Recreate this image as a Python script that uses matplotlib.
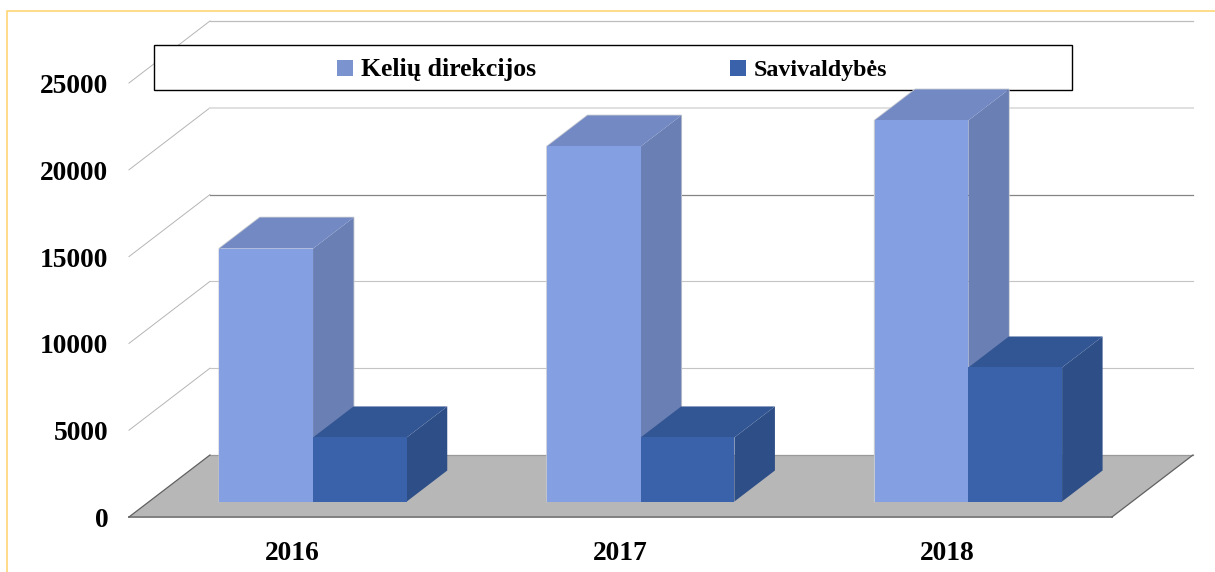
import matplotlib
matplotlib.use('Agg')
import matplotlib.pyplot as plt
from matplotlib.lines import Line2D
from matplotlib.patches import Rectangle

# Data
years = ['2016', '2017', '2018']
keliu = [14570, 20450, 21950]
savivaldybes = [3690, 3690, 7720]
ticks = [0, 5000, 10000, 15000, 20000, 25000]
grid_colors = ['#9A9A9A', '#C4C4C4', '#C4C4C4', '#858585', '#E0E0E0', '#BEBEBE']
grid_widths = [0.9, 0.8, 0.8, 0.9, 1.4, 0.9]

W, H = 1215, 572
PX_X = 327.67       # pixels for one category
PX_Y = 86.8 / 5000  # pixels for one value unit
X0 = 292.8          # pixel of the first category on the front edge
Y0 = 517            # pixel of value 0 on the front edge

# oblique offset of the whole depth of the floor
DX = 81 / PX_X
DY = 62 / PX_Y
BAR_W = 93.7 / PX_X
BAR_FRONT = 0.25
BAR_BACK = 0.75


def proj(x, v, d):
    return x + d * DX, v + d * DY


def px_x(p):
    return (p - X0) / PX_X


def px_y(p):
    return (Y0 - p) / PX_Y


def draw_bar(ax, left, value, front, top, side, z, halo=None):
    x0, v0 = proj(left, 0, BAR_FRONT)
    ax.bar(x0, value, BAR_W, bottom=v0, align='edge', color=front, zorder=z + 0.2)
    x1 = x0 + BAR_W
    x2, v2 = proj(left + BAR_W, value, BAR_BACK)
    x3 = x2 - BAR_W
    if halo:
        ax.plot([x0, x0, x3, x2, x2], [v0, v0 + value, v2, v2, v2 - value], color=halo, lw=1.2, zorder=z - 0.1)
    ax.fill([x0, x1, x2, x3], [v0 + value, v0 + value, v2, v2], color=top, lw=0, zorder=z + 0.1)
    ax.fill([x1, x2, x2, x1], [v0 + value, v2, v2 - value, v0], color=side, lw=0, zorder=z)


fig = plt.figure(figsize=(W / 100, H / 100), dpi=100)
ax = fig.add_axes([0, 0, 1, 1])
ax.set_xlim(px_x(0), px_x(W))
ax.set_ylim(px_y(H), px_y(0))
ax.axis('off')

plt.rcParams['font.family'] = ['Liberation Serif', 'DejaVu Serif']

# page border
ax.add_line(Line2D([7 / W, 7 / W, 1], [0, 1 - 11 / H, 1 - 11 / H], transform=ax.transAxes,
                   color='#FFD97F', lw=1.3, zorder=1))

xl, xr = -0.5, len(years) - 0.5

# floor
fx = [xl, xr, xr + DX, xl + DX]
fy = [0, 0, DY, DY]
ax.fill(fx, fy, color='#B7B7B7', lw=0, zorder=2)

# grid on the back wall and the left wall
for t, c, lw in zip(ticks, grid_colors, grid_widths):
    if t > 0:
        ax.plot([xl, xl + DX], [t, t + DY], color='#B5B5B5', lw=0.7, zorder=2)
    ax.plot([xl + DX, xr + DX], [t + DY, t + DY], color=c, lw=lw, zorder=2)
    ax.annotate(str(t), (xl, t), xytext=(-15, -7.2), textcoords='offset points', ha='right',
                va='baseline', fontsize=19.8, fontweight='bold', color='black')

# floor edges
ax.plot([xl, xr], [0, 0], color='#808080', lw=1.4, zorder=2.1)
ax.plot([xl + DX, xl], [DY, 0], color='#606060', lw=0.9, zorder=2.1)
ax.plot([xr, xr + DX], [0, DY], color='#606060', lw=0.9, zorder=2.1)

for i, y in enumerate(years):
    ax.annotate(y, (i, 0), xytext=(-0.5, -31), textcoords='offset points', ha='center',
                va='baseline', fontsize=19.8, fontweight='bold', color='black')

# legend box, under the bars
ax.add_patch(Rectangle((px_x(154), px_y(90)), 918 / PX_X, 45 / PX_Y, fc='white', ec='black',
                       lw=1, zorder=3))
ax.add_patch(Rectangle((px_x(337), px_y(76)), 16 / PX_X, 16 / PX_Y, fc='#7B93CF', lw=0, zorder=3.1))
ax.add_patch(Rectangle((px_x(730), px_y(76)), 16 / PX_X, 16 / PX_Y, fc='#3A62AA', lw=0, zorder=3.1))
ax.text(px_x(361), px_y(76), 'Kelių direkcijos', fontsize=18.5, fontweight='bold', va='baseline', zorder=3.1)
ax.text(px_x(754), px_y(76), 'Savivaldybės', fontsize=17.3, fontweight='bold', va='baseline', zorder=3.1)

# bars
for i in range(len(years)):
    z = 4 + i
    draw_bar(ax, i - BAR_W, keliu[i], '#85A0E2', '#7389C3', '#6A7FB3', z, halo='#C4C8D0')
    draw_bar(ax, i, savivaldybes[i], '#3A62AA', '#325593', '#2E4E88', z + 0.5)

fig.savefig('out.png', dpi=100, facecolor='white')
